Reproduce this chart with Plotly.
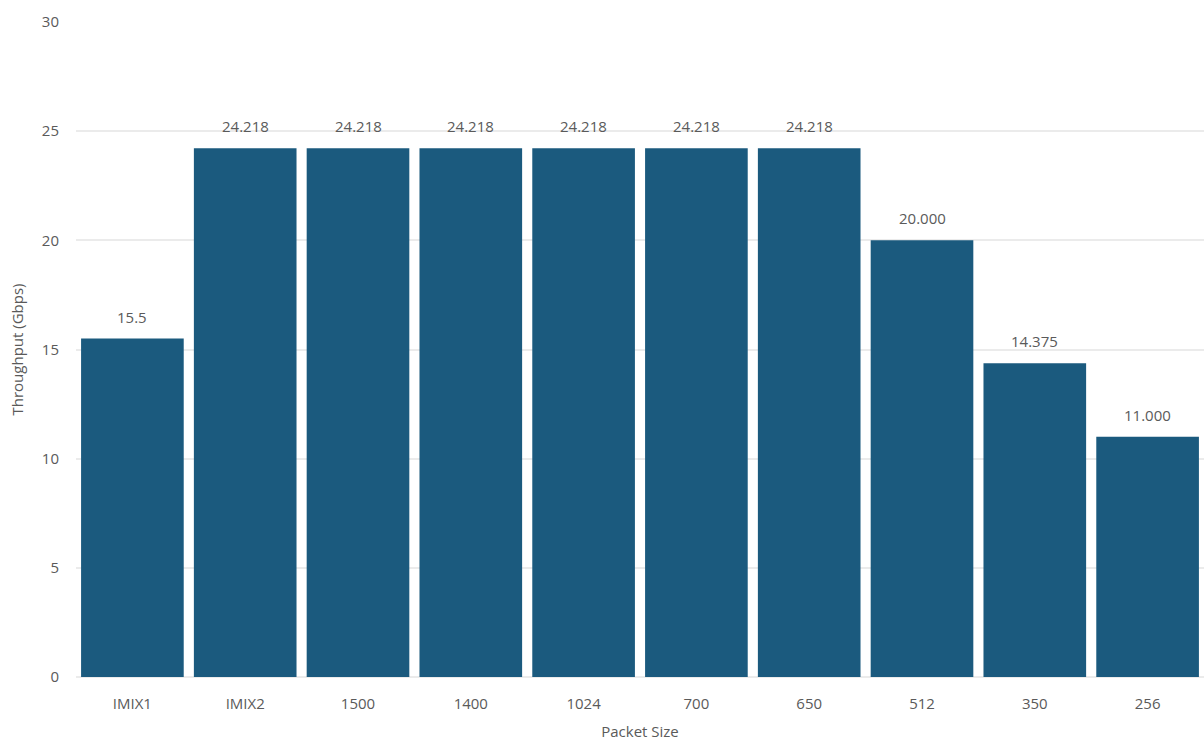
import plotly.graph_objects as go

categories = ["IMIX1", "IMIX2", "1500", "1400", "1024", "700", "650", "512", "350", "256"]
throughput = [15.5, 24.218, 24.218, 24.218, 24.218, 24.218, 24.218, 20.0, 14.375, 11.0]
labels = ["15.5", "24.218", "24.218", "24.218", "24.218", "24.218", "24.218", "20.000", "14.375", "11.000"]
y_ticks = [0, 5, 10, 15, 20, 25, 30]

BAR = "#1b5a7e"
TXT = "#5a5a5a"
FONT = "'Open Sans', Lato, sans-serif"

fig = go.Figure()
fig.add_trace(go.Bar(x=categories, y=throughput, marker=dict(color=BAR, line=dict(width=0)),
                     hoverinfo="x+y"))

# category axis: annotations are positioned by category index
for i, (v, t) in enumerate(zip(throughput, labels)):
    fig.add_annotation(x=i, y=v, text=t, showarrow=False, yanchor="bottom", yshift=10,
                       font=dict(family=FONT, size=15, color=TXT))

fig.update_layout(
    width=1204, height=744,
    margin=dict(l=76, r=0, t=22, b=67),
    paper_bgcolor="white", plot_bgcolor="white",
    bargap=0.09,
    showlegend=False,
    font=dict(family=FONT, size=15, color=TXT),
    xaxis=dict(type="category", categoryorder="array", categoryarray=categories,
               range=[-0.5, len(categories) - 0.5],
               title=dict(text="Packet Size", font=dict(size=15, color=TXT), standoff=14),
               showgrid=False, showline=False, ticks="", ticklabelstandoff=16,
               tickfont=dict(size=15, color=TXT)),
    yaxis=dict(title=dict(text="Throughput (Gbps)", font=dict(size=15, color=TXT), standoff=14),
               range=[0, 30], tickvals=y_ticks, showgrid=True, gridcolor="#ebebeb", gridwidth=1.5,
               zeroline=True, zerolinecolor="#ebebeb", zerolinewidth=1.5,
               showline=False, ticks="", ticklabelstandoff=16, tickfont=dict(size=15, color=TXT)),
)

fig.write_html("out.html")
